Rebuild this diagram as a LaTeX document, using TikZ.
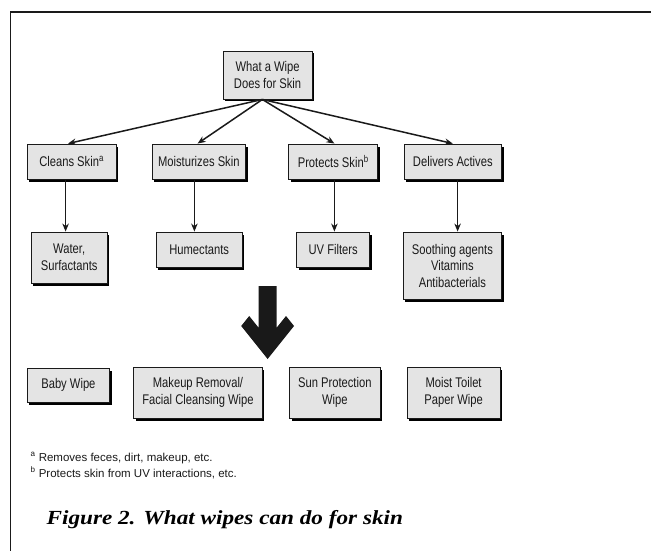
\documentclass[tikz,border=0pt]{standalone}
\usepackage{fontspec}
\setmainfont{Liberation Sans}
\newfontfamily\boxfont[FakeStretch=0.8]{Liberation Sans}
\newfontfamily\notefont{Liberation Sans}
\newfontfamily\capfont[FakeStretch=1.16]{Liberation Serif}
\usetikzlibrary{shadows,arrows.meta}
\definecolor{boxfill}{HTML}{E4E4E4}
\definecolor{ink}{HTML}{1A1A1A}
\begin{document}
\begin{tikzpicture}[x=0.8pt,y=-1pt,
  wbox/.style={draw=ink, line width=0.9pt, fill=boxfill, inner sep=0pt, align=center, text=ink,
    font=\boxfont\fontsize{14}{16.5}\selectfont,
    drop shadow={shadow xshift=2pt, shadow yshift=-2.5pt, fill=black, opacity=1}},
  conn/.style={draw=ink, line width=1.5pt, -{Stealth[length=8pt,width=6.5pt]}},
  frameline/.style={draw=ink, line width=1.1pt},
  note/.style={anchor=base west, inner sep=0pt, text=ink, font=\notefont\fontsize{11.5}{13}\selectfont},
]
\useasboundingbox (0,0) rectangle (813.75,551);
\fill[white] (0,0) rectangle (813.75,551);
\draw[frameline] (13,551) -- (13,12) -- (813.75,12);

% top
\node[wbox, minimum width=88.8pt, minimum height=48pt] (top) at (334.5,75) {What a Wipe\\Does for Skin};
% level 1
\node[wbox, minimum width=88.8pt, minimum height=35pt] (cleans) at (89.5,161.5) {Cleans Skin\textsuperscript{a}};
\node[wbox, minimum width=93.6pt, minimum height=35pt] (moist) at (248.5,161.5) {Moisturizes Skin};
\node[wbox, minimum width=88.8pt, minimum height=35pt] (prot) at (416.5,161.5) {Protects Skin\textsuperscript{b}};
\node[wbox, minimum width=97.6pt, minimum height=35pt] (deliv) at (566,161.5) {Delivers Actives};
% level 2
\node[wbox, minimum width=76pt, minimum height=51pt] (water) at (86.5,257.5) {Water,\\Surfactants};
\node[wbox, minimum width=86.4pt, minimum height=35pt] (hum) at (249,249.5) {Humectants};
\node[wbox, minimum width=72.8pt, minimum height=35pt] (uv) at (416.5,249.5) {UV Filters};
\node[wbox, minimum width=98.4pt, minimum height=67pt] (sooth) at (565.5,265.5) {Soothing agents\\Vitamins\\Antibacterials};
% level 3
\node[wbox, minimum width=82.4pt, minimum height=34pt] (baby) at (85.5,385) {Baby Wipe};
\node[wbox, minimum width=128.8pt, minimum height=51pt] (makeup) at (247.5,392.5) {Makeup Removal/\\Facial Cleansing Wipe};
\node[wbox, minimum width=90.4pt, minimum height=51pt] (sun) at (418.5,392.5) {Sun Protection\\Wipe};
\node[wbox, minimum width=92.8pt, minimum height=51pt] (toilet) at (567,392.5) {Moist Toilet\\Paper Wipe};

% connectors
\coordinate (src) at ([xshift=-5.2pt]top.south);
\draw[conn] (src) -- ([xshift=-3.6pt]cleans.north);
\draw[conn] (src) -- ([xshift=-1.2pt]moist.north);
\draw[conn] (src) -- ([xshift=1.2pt]prot.north);
\draw[conn] (src) -- (deliv.north);

\draw[conn] ([xshift=-6pt]cleans.south) -- ([xshift=-6pt]cleans.south |- water.north);
\draw[conn] ([xshift=-4.4pt]moist.south) -- ([xshift=-4.4pt]moist.south |- hum.north);
\draw[conn] ([xshift=1.2pt]prot.south) -- ([xshift=1.2pt]prot.south |- uv.north);
\draw[conn] ([xshift=4.8pt]deliv.south) -- ([xshift=4.8pt]deliv.south |- sooth.north);

% big arrow
\fill[black!90] (323.3,286) -- (345.7,286) -- (345.7,327.8) -- (357.5,316) -- (367.5,326)
  -- (334.5,359) -- (301.5,326) -- (311.5,316) -- (323.3,327.8) -- cycle;

% footnotes
\node[note] (fa) at (38,461) {\textsuperscript{a} Removes feces, dirt, makeup, etc.};
\node[note] (fb) at (38,477) {\textsuperscript{b} Protects skin from UV interactions, etc.};

% caption
\node[anchor=base west, inner sep=0pt, text=black, font=\capfont\bfseries\itshape\fontsize{20}{23}\selectfont] (cap) at (58,524) {Figure 2. What wipes can do for skin};
\end{tikzpicture}
\end{document}
